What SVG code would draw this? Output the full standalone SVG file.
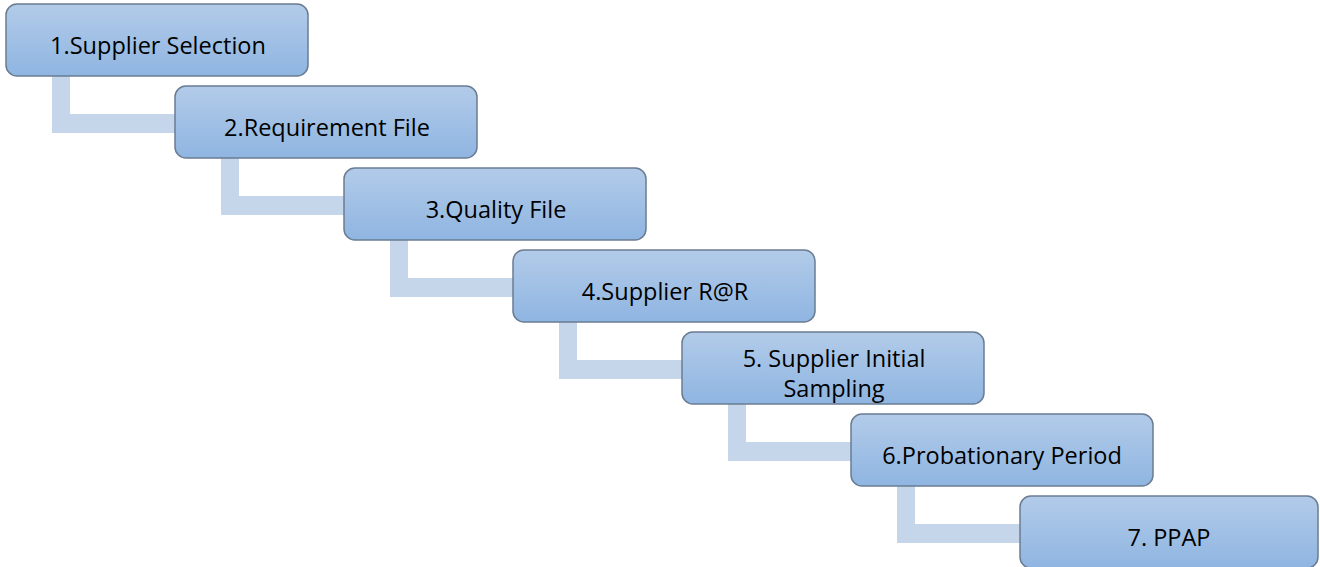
<svg xmlns="http://www.w3.org/2000/svg" width="1320" height="567" viewBox="0 0 1320 567">
<defs>
<linearGradient id="g" x1="0" y1="0" x2="0" y2="1">
<stop offset="0" stop-color="#b3cbe9"/>
<stop offset="1" stop-color="#8fb5e1"/>
</linearGradient>
<style>
.box{fill:url(#g);stroke:#6a7c92;stroke-width:1.5}
.t{font-family:"Open Sans","Noto Sans",sans-serif;font-size:23.5px;fill:#000;text-anchor:middle}
.c{fill:#c5d6eb}
</style>
</defs>
<rect width="1320" height="567" fill="#fff"/>
<g id="connectors">
<path class="c" d="M52 76H70V114H176V133H52Z"/>
<path class="c" d="M221 158H239V196H345V215H221Z"/>
<path class="c" d="M390 240H408V278H514V297H390Z"/>
<path class="c" d="M559 322H577V360H683V379H559Z"/>
<path class="c" d="M728 404H746V442H852V461H728Z"/>
<path class="c" d="M897 486H915V524H1021V543H897Z"/>
</g>
<g id="n1"><rect class="box" x="6" y="4" width="302" height="72" rx="11"/><text class="t" x="158" y="54">1.Supplier Selection</text></g>
<g id="n2"><rect class="box" x="175" y="86" width="302" height="72" rx="11"/><text class="t" x="327" y="136">2.Requirement File</text></g>
<g id="n3"><rect class="box" x="344" y="168" width="302" height="72" rx="11"/><text class="t" x="496" y="218">3.Quality File</text></g>
<g id="n4"><rect class="box" x="513" y="250" width="302" height="72" rx="11"/><text class="t" x="665" y="300">4.Supplier R@R</text></g>
<g id="n5"><rect class="box" x="682" y="332" width="302" height="72" rx="11"/><text class="t" x="834" y="367">5. Supplier Initial</text><text class="t" x="834" y="397">Sampling</text></g>
<g id="n6"><rect class="box" x="851" y="414" width="302" height="72" rx="11"/><text class="t" x="1002" y="464">6.Probationary Period</text></g>
<g id="n7"><rect class="box" x="1020" y="496" width="298" height="72" rx="11"/><text class="t" x="1169" y="546">7. PPAP</text></g>
</svg>
